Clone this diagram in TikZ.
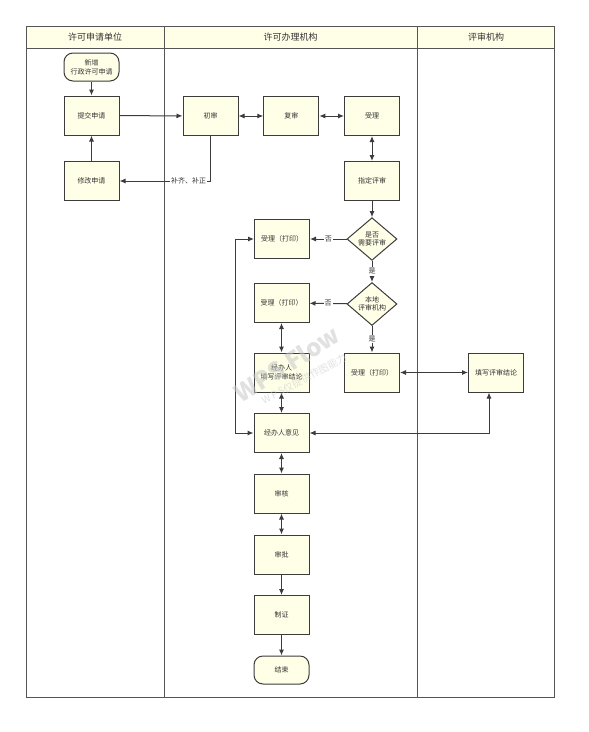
\documentclass[tikz,border=0pt]{standalone}
\usepackage{fontspec}
\setmainfont{Noto Sans CJK SC}
\usetikzlibrary{arrows.meta,shapes.geometric}
\definecolor{nodefill}{HTML}{FFFFE8}
\definecolor{linec}{HTML}{3C3C3C}
\definecolor{framec}{HTML}{555555}
\definecolor{txt}{HTML}{333333}
\definecolor{wmark}{HTML}{C8C8C8}
\begin{document}
\begin{tikzpicture}[x=1pt,y=-1pt,
  box/.style={draw=linec, line width=1pt, fill=nodefill, minimum width=55pt, minimum height=39pt,
    inner sep=1pt, font=\fontsize{7}{9}\selectfont, text=txt, align=center},
  term/.style={box, rounded corners=9pt, minimum height=28pt},
  dia/.style={diamond, draw=linec, line width=1pt, fill=nodefill, minimum width=50pt, minimum height=38pt,
    inner sep=0pt, font=\fontsize{7}{8.5}\selectfont, text=txt, align=center},
  conn/.style={draw=linec, line width=1pt, -{Latex[length=6pt,width=5pt]}},
  dconn/.style={draw=linec, line width=1pt, {Latex[length=6pt,width=5pt]}-{Latex[length=6pt,width=5pt]}},
  lbl/.style={fill=white, font=\fontsize{7}{8}\selectfont, text=txt, inner sep=1pt},
  hdr/.style={font=\fontsize{9}{10}\selectfont, text=txt},
  wmk/.style={text=wmark, text opacity=0.55}
]
\useasboundingbox (0,0) rectangle (589,732);
% swimlane frame
\fill[nodefill] (26.5,26.5) rectangle (554.5,48);
\draw[framec, line width=1pt] (26.5,26.5) rectangle (554.5,697);
\draw[framec, line width=1pt] (26.5,48) -- (554.5,48);
\draw[framec, line width=1pt] (164,26.5) -- (164,697);
\draw[framec, line width=1pt] (417,26.5) -- (417,697);
\node[hdr] (h1) at (95,37) {许可申请单位};
\node[hdr] (h2) at (290.5,37) {许可办理机构};
\node[hdr] (h3) at (486,37) {评审机构};
% nodes
\node[term] (start) at (91.5,67) {新增\\行政许可申请};
\node[box] (submit) at (91.5,115.5) {提交申请};
\node[box] (modify) at (91.5,181) {修改申请};
\node[box] (chushen) at (210.5,116) {初审};
\node[box] (fushen) at (291.3,116) {复审};
\node[box] (shouli) at (372,116) {受理};
\node[box] (zhiding) at (372,181) {指定评审};
\node[dia] (d1) at (372,239) {是否\\需要评审};
\node[dia] (d2) at (372,304) {本地\\评审机构};
\node[box] (p1) at (282,239) {受理（打印）};
\node[box] (p2) at (281.5,303) {受理（打印）};
\node[box] (jbtx) at (281.5,372.5) {经办人\\填写评审结论};
\node[box] (p3) at (372,372.5) {受理（打印）};
\node[box] (txjl) at (496,372.5) {填写评审结论};
\node[box] (jbyj) at (281.5,433) {经办人意见};
\node[box] (shenhe) at (281.5,493.5) {审核};
\node[box] (shenpi) at (281.5,554.5) {审批};
\node[box] (zhizheng) at (281.5,615) {制证};
\node[term] (end) at (281.5,670) {结束};
% connectors
\draw[conn] (start) -- (submit);
\draw[conn] (modify) -- (submit);
\draw[conn] (submit) -- (chushen);
\draw[dconn] (chushen) -- (fushen);
\draw[dconn] (fushen) -- (shouli);
\draw[dconn] (shouli) -- (zhiding);
\draw[conn] (chushen.south) |- node[lbl, pos=0.62] {补齐、补正} (modify.east);
\draw[conn] (zhiding) -- (d1);
\draw[conn] (d1) -- node[lbl] {否} (p1);
\draw[conn] (d1) -- node[lbl] {是} (d2);
\draw[conn] (d2) -- node[lbl] {否} (p2);
\draw[conn] (d2) -- node[lbl] {是} (p3);
\draw[dconn] (p2) -- (jbtx);
\draw[dconn] (jbtx) -- (jbyj);
\draw[dconn] (p3) -- (txjl);
\draw[dconn] ([xshift=-7pt]txjl.south) |- (jbyj.east);
\draw[dconn] (p1.west) -- ([xshift=-18.5pt]p1.west) |- (jbyj.west);
\draw[dconn] (jbyj) -- (shenhe);
\draw[dconn] (shenhe) -- (shenpi);
\draw[conn] (shenpi) -- (zhizheng);
\draw[conn] (zhizheng) -- (end);
% watermark (drawn on top, faint)
\node[wmk, rotate=32, font=\bfseries\fontsize{24}{24}\selectfont] (wm1) at (287,364) {WPS Flow};
\node[wmk, rotate=28, font=\fontsize{10}{10}\selectfont] (wm2) at (304,379) {W\,P\,S仅提供作图能力};
\end{tikzpicture}
\end{document}
